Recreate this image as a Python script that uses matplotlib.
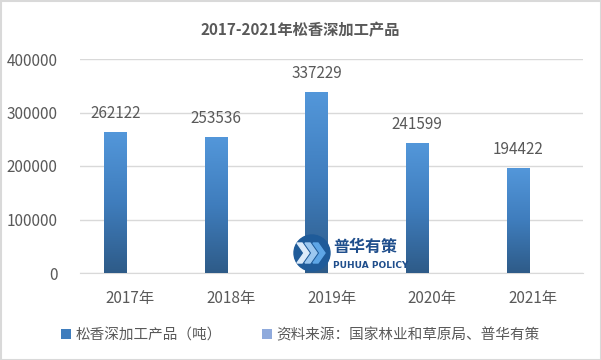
import numpy as np
import matplotlib.pyplot as plt
from matplotlib.patches import Patch, Circle, Polygon, Rectangle
from matplotlib.colors import LinearSegmentedColormap

plt.rcParams['font.family'] = ['Noto Sans CJK SC', 'DejaVu Sans']

# Data
years = ['2017年', '2018年', '2019年', '2020年', '2021年']
output = [262122, 253536, 337229, 241599, 194422]
series_name = '松香深加工产品（吨）'
source_note = '资料来源：国家林业和草原局、普华有策'
title = '2017-2021年松香深加工产品'

TXT = '#595959'
GRID = '#D9D9D9'
bar_cmap = LinearSegmentedColormap.from_list('bar', ['#2E5B88', '#3F7DBD', '#5397DA'])

fig = plt.figure(figsize=(6.01, 3.6), dpi=100)
ax = fig.add_axes([80 / 601, 87 / 360, 503 / 601, 214 / 360])

x = np.arange(len(years))
width = 0.22
offset = -0.15
grad = np.linspace(0, 1, 256).reshape(-1, 1)
for xi, v in zip(x, output):
    x0 = xi + offset - width / 2
    ax.imshow(grad, extent=[x0, x0 + width, 0, v], origin='lower',
              aspect='auto', cmap=bar_cmap, zorder=3)
    ax.text(xi + offset, v + 36000, f'{v}', ha='center', va='center',
            fontsize=11, color=TXT, zorder=4)

ax.set_xlim(-0.5, len(years) - 0.5)
ax.set_ylim(0, 400000)
ax.set_xticks(x)
ax.set_xticklabels(years)
ax.set_yticks(np.arange(0, 400001, 100000))
ax.yaxis.grid(True, color=GRID, linewidth=1)
ax.set_axisbelow(True)
for s in ['top', 'right', 'left']:
    ax.spines[s].set_visible(False)
ax.spines['bottom'].set_color(GRID)
ax.tick_params(axis='both', length=0, labelsize=11, labelcolor=TXT)
ax.tick_params(axis='x', pad=12)
ax.tick_params(axis='y', pad=16)

fig.text(0.5, 1 - 30 / 360, title, ha='center', va='center',
         fontsize=11, fontweight='bold', color=TXT)

handles = [Patch(facecolor='#3F7DBD', edgecolor='none'),
           Patch(facecolor='#8FAADC', edgecolor='none')]
fig.legend(handles, [series_name, source_note], loc='center',
           bbox_to_anchor=(0.5, 1 - 335 / 360), ncol=2, frameon=False,
           fontsize=10.5, labelcolor=TXT, handlelength=0.65, handleheight=0.65,
           handletextpad=0.3, columnspacing=2.8)

# overlay in pixel coordinates for the watermark logo and border
ov = fig.add_axes([0, 0, 1, 1], zorder=10)
ov.set_xlim(0, 601)
ov.set_ylim(360, 0)
ov.axis('off')
ov.patch.set_alpha(0)
ov.add_patch(Circle((312, 253), 18, color='#1F5B99'))
for dx, col in [(-8, '#DCEBFA'), (0, '#9CC8F0'), (8, '#5EA6E6')]:
    cx = 310 + dx
    ov.add_patch(Polygon([(cx - 5, 243), (cx, 243), (cx + 7, 253), (cx, 263),
                          (cx - 5, 263), (cx + 2, 253)], closed=True, color=col))
ov.text(333, 247, '普华有策', fontsize=11.5, fontweight='bold', color='#1F4E8C',
        ha='left', va='center')
ov.text(333, 266, 'PUHUA POLICY', fontsize=6.5, fontweight='bold', color='#1F4E8C',
        ha='left', va='center', family='DejaVu Sans')
ov.add_patch(Rectangle((0.5, 0.5), 600, 359, fill=False, edgecolor=GRID, linewidth=1.5))

fig.savefig('out.png', dpi=100, facecolor='white')
